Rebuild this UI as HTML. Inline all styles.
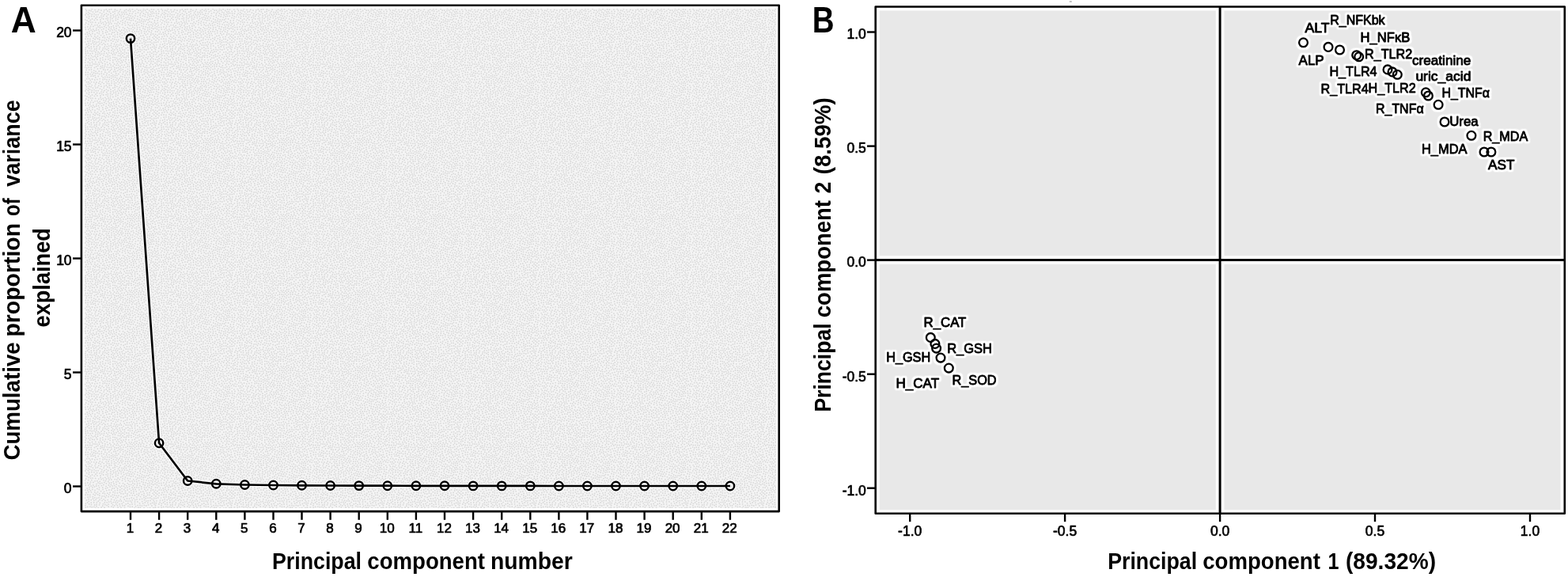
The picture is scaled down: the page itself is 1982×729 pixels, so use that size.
<!DOCTYPE html>
<html lang="en"><head><meta charset="utf-8"><title>PCA scree plot and loading plot</title>
<style>
html,body{margin:0;padding:0;background:#fff;}
body{width:1982px;height:729px;overflow:hidden;}
svg{display:block;position:absolute;left:0;top:0;}
text{font-family:"Liberation Sans","DejaVu Sans",sans-serif;fill:#000;}
.t{font-size:17.5px;stroke:#000;stroke-width:0.7px;stroke-linejoin:round;}
.l{font-size:16.8px;stroke:#000;stroke-width:0.85px;stroke-linejoin:round;}
.b{font-weight:bold;font-size:29px;}
.p{font-weight:bold;font-size:45.5px;}
</style></head><body>
<svg width="1982" height="729" viewBox="0 0 1982 729">
<defs>
<pattern id="stip" x="107" y="11" width="96" height="96" patternUnits="userSpaceOnUse"><rect width="96" height="96" fill="#f4f4f4"/><path d="M22.8 52.2h0M35.5 58.0h0M60.1 6.3h0M1.3 80.4h0M24.9 22.5h0M95.6 45.1h0M80.3 45.7h0M61.4 14.5h0M60.9 83.3h0M50.2 71.2h0M64.5 6.1h0M72.8 56.7h0M28.9 3.0h0M83.1 45.4h0M69.0 84.4h0M68.6 88.4h0M37.9 76.9h0M42.7 89.8h0M84.4 9.4h0M13.1 20.8h0M92.7 41.9h0M60.2 28.9h0M48.7 37.0h0M33.7 56.2h0M56.1 86.8h0M65.5 89.2h0M82.2 95.1h0M64.4 15.7h0M82.6 92.6h0M86.9 54.6h0M68.5 20.3h0M79.8 55.1h0M27.4 6.1h0M8.5 76.9h0M39.4 14.5h0M28.2 73.8h0M83.8 4.2h0M69.0 31.8h0M84.6 94.1h0M48.5 95.9h0M29.7 7.4h0M57.6 3.0h0M18.9 39.2h0M58.6 15.0h0M4.1 83.3h0M30.1 92.0h0M86.1 36.3h0M44.2 49.9h0M61.8 57.2h0M53.7 59.5h0M90.3 48.7h0M41.4 69.1h0M22.8 28.9h0M93.9 50.0h0M52.6 1.1h0M39.9 55.7h0M1.9 59.1h0M60.2 44.8h0M65.2 33.8h0M67.9 70.9h0M2.1 5.8h0M64.9 92.5h0M24.1 43.8h0M56.9 30.7h0M34.9 30.0h0M28.8 36.2h0M74.1 2.6h0M54.6 70.6h0M29.8 21.4h0M77.2 22.9h0M18.0 41.8h0M67.0 9.8h0M30.9 32.0h0M80.0 42.1h0M82.1 16.3h0M32.3 62.4h0M85.0 43.3h0M21.6 11.6h0M50.8 18.3h0M77.5 80.5h0M17.6 26.7h0M77.5 61.6h0M77.4 33.1h0M12.5 28.0h0M76.2 26.0h0M33.3 40.0h0M40.3 39.3h0M88.4 15.0h0M0.4 90.6h0M89.0 21.3h0M71.6 80.3h0M63.6 49.8h0M27.7 32.7h0M21.8 6.5h0M56.5 27.6h0M77.8 4.3h0M86.7 66.6h0M88.7 86.1h0M1.3 71.5h0M39.7 90.1h0M58.8 32.8h0M24.2 82.7h0M45.8 75.1h0M33.8 18.9h0M51.3 78.4h0M16.4 76.0h0M88.5 77.4h0M79.1 0.7h0M4.8 26.1h0M25.8 50.6h0M40.6 45.4h0M74.5 0.2h0M5.3 12.2h0M12.0 6.6h0M93.6 82.0h0M8.3 48.2h0M56.3 34.6h0M18.3 31.6h0M11.9 53.3h0M68.7 36.5h0M7.7 17.1h0M75.1 36.5h0M41.4 35.8h0M47.6 67.5h0M40.4 66.6h0M44.2 23.5h0M51.4 66.7h0M6.9 40.8h0M40.9 84.4h0M89.9 35.9h0M86.2 75.9h0M11.8 78.1h0M63.6 85.2h0M76.1 64.1h0M70.4 54.1h0M9.9 56.4h0M0.5 13.8h0M8.8 9.5h0M84.5 17.2h0M11.6 81.0h0M64.7 80.3h0M91.4 55.6h0M73.7 49.1h0M71.9 89.7h0M5.9 31.1h0M54.1 79.5h0M23.2 17.3h0M24.0 59.1h0M72.3 37.8h0M35.3 38.1h0M71.8 15.4h0M46.4 61.7h0M9.2 71.8h0M88.0 49.7h0M19.1 56.2h0M28.4 67.7h0M39.7 81.9h0M20.9 2.2h0M46.0 36.7h0M16.5 34.6h0M30.9 74.3h0M13.8 95.2h0M46.0 57.5h0M44.9 80.1h0M82.2 38.4h0M70.4 92.2h0M22.5 68.9h0M82.0 23.2h0M18.0 67.7h0M82.4 86.4h0M30.1 40.6h0M70.0 8.2h0M8.9 80.1h0M55.7 64.8h0M0.7 32.1h0M91.7 37.5h0M52.3 11.4h0M26.4 63.9h0M10.8 85.2h0M87.2 9.3h0M74.2 72.7h0M62.8 77.4h0M25.5 72.4h0M92.3 64.6h0M47.4 33.8h0M68.9 65.1h0M54.4 17.5h0M62.0 60.6h0M17.2 85.4h0M62.9 11.8h0M31.8 69.2h0M57.4 53.3h0M30.0 16.9h0M6.6 68.7h0M72.4 52.1h0M71.0 34.5h0M25.5 36.8h0M48.5 23.7h0M73.8 34.0h0M52.0 74.1h0M33.9 81.3h0M10.8 26.0h0M74.8 69.8h0M17.7 18.2h0M40.0 71.4h0M78.3 71.9h0M38.2 18.6h0M50.6 54.6h0M19.4 24.0h0M77.1 85.6h0M53.1 56.0h0M60.8 93.8h0M65.9 28.7h0M57.7 69.8h0M0.2 74.0h0M63.5 47.2h0M50.3 44.2h0M18.6 50.8h0M3.6 48.0h0M62.0 42.6h0M54.3 92.1h0M85.6 13.0h0M4.9 34.6h0M51.7 89.3h0M31.0 83.6h0M66.7 12.9h0M82.4 57.7h0M89.0 68.7h0M77.4 89.4h0M82.7 42.0h0M72.7 46.6h0M10.5 4.1h0M15.4 47.7h0M67.1 51.6h0M40.5 62.3h0M29.2 44.6h0M35.6 50.8h0M57.3 21.5h0M0.3 20.1h0M75.2 13.8h0M44.2 18.7h0M20.1 16.4h0M2.6 10.6h0M5.7 2.2h0M43.0 39.1h0M67.5 4.9h0M2.6 92.7h0M21.0 9.1h0M45.6 15.8h0M69.9 26.4h0M75.6 44.7h0M89.6 28.9h0M24.0 25.5h0M33.1 9.0h0M56.9 0.4h0M16.4 3.5h0M5.2 62.8h0M86.4 19.3h0M90.2 3.3h0M29.3 58.3h0M90.9 8.4h0M28.2 81.6h0M11.0 37.4h0M32.1 65.3h0M71.0 70.5h0M39.8 22.0h0M25.9 16.3h0M69.2 58.1h0M68.2 2.2h0M44.8 72.8h0M86.1 70.4h0M32.0 35.5h0M6.9 38.3h0M54.6 10.6h0M7.8 62.3h0M14.7 61.9h0M22.1 92.9h0M21.1 54.0h0M40.3 75.0h0M58.0 75.7h0M17.1 7.6h0M79.2 10.8h0M8.2 44.7h0M21.4 79.6h0M59.1 61.6h0M73.1 83.7h0M42.8 10.7h0M78.2 19.8h0M33.2 46.5h0M6.9 53.1h0M70.6 40.6h0M20.6 33.7h0M41.4 8.1h0M58.8 89.4h0M51.4 40.2h0M91.0 86.7h0M28.0 89.7h0M49.9 61.4h0M3.9 71.5h0M26.5 41.5h0M33.1 71.2h0M9.9 28.7h0M14.7 73.2h0M67.2 93.7h0M35.8 15.5h0M50.5 52.0h0M12.6 51.0h0M51.4 15.9h0M4.8 19.6h0M94.0 75.4h0M94.0 3.4h0M17.8 1.3h0M41.5 32.5h0M23.7 77.0h0M40.1 25.0h0M4.2 41.2h0M60.2 64.8h0M23.7 13.0h0M72.8 75.8h0M48.8 79.8h0M53.0 26.8h0M87.0 44.9h0M78.1 57.9h0M39.8 49.8h0M33.8 43.7h0M92.1 14.9h0M30.2 50.1h0M46.8 26.9h0M9.8 64.2h0M86.0 92.2h0M61.8 18.7h0M88.4 17.4h0M36.8 79.5h0M30.4 26.0h0M91.2 90.6h0M27.1 12.6h0M7.6 22.1h0M80.5 60.6h0M27.1 92.3h0M52.4 4.5h0M13.8 86.9h0M64.8 62.1h0M18.2 79.0h0M36.7 10.3h0M37.4 94.8h0M13.9 12.2h0M33.8 87.8h0M90.2 95.7h0M94.1 23.6h0M34.0 91.3h0M75.1 54.6h0M19.4 5.1h0M93.9 39.3h0M1.3 83.5h0M73.5 8.9h0M14.0 57.6h0M94.1 89.9h0M82.8 80.2h0M43.5 45.9h0M51.0 84.0h0M42.4 59.3h0M81.4 74.6h0M38.3 35.8h0M56.1 14.0h0M87.7 42.4h0M45.6 85.5h0M27.5 18.2h0M8.1 2.7h0M33.7 0.7h0M79.9 17.6h0M49.1 41.5h0M94.0 66.4h0M72.3 95.2h0M46.1 40.5h0M85.9 79.3h0M28.7 86.4h0M73.8 87.4h0M82.3 70.8h0M41.6 30.0h0M90.0 11.5h0M87.7 38.1h0M80.0 5.5h0M25.3 66.6h0M21.2 42.4h0M54.2 23.6h0M64.4 58.5h0M16.9 72.1h0M37.8 51.8h0M42.5 5.4h0M75.5 82.5h0M25.8 86.3h0M65.8 21.3h0M84.9 52.0h0M71.8 28.0h0M1.0 65.1h0M46.0 54.4h0M54.0 37.0h0M16.6 37.9h0M5.3 46.3h0M19.3 48.5h0M83.4 49.5h0M38.1 6.3h0M26.5 30.2h0M91.0 45.8h0M92.4 17.9h0M54.8 49.0h0M19.2 21.4h0M70.4 86.7h0M9.5 67.5h0M72.0 21.6h0M43.9 93.5h0M15.9 64.0h0M35.7 83.6h0M66.0 41.1h0M20.3 72.8h0M48.5 91.5h0M35.8 4.2h0M52.2 64.2h0M13.1 60.0h0M0.7 7.9h0M58.7 25.3h0M49.8 31.5h0M93.2 9.8h0M77.3 42.7h0M64.1 31.4h0M22.1 39.9h0M55.0 52.4h0M2.4 2.5h0M63.6 70.6h0M76.3 48.0h0M9.6 89.0h0M96.0 16.1h0M11.7 48.0h0M0.5 68.0h0M28.8 29.3h0M8.5 92.6h0M6.6 64.9h0M37.5 44.7h0M29.3 70.9h0M24.6 34.3h0M56.1 58.7h0M62.0 68.7h0M89.1 24.4h0M93.7 27.1h0M8.2 85.2h0M86.5 32.0h0M89.7 72.3h0M24.0 19.6h0M14.9 93.0h0M86.9 87.8h0M86.8 25.5h0M19.2 88.6h0M29.9 63.8h0M38.3 33.1h0M55.2 2.4h0M83.7 33.0h0M32.1 27.9h0M46.3 11.6h0M16.3 81.4h0M36.0 34.7h0M52.3 46.0h0M45.4 68.7h0M17.9 94.2h0M25.0 7.5h0M81.2 84.2h0M72.5 43.3h0M79.7 26.9h0M63.6 2.7h0M59.5 73.6h0M93.1 20.8h0M13.1 70.0h0M57.0 38.8h0M59.3 47.5h0M75.4 28.6h0M19.2 91.9h0M0.1 42.2h0M46.9 4.3h0M32.9 6.2h0M51.5 33.4h0M27.4 23.9h0M5.6 88.4h0M80.8 89.4h0M67.1 59.3h0M29.3 11.8h0M72.9 65.9h0M34.2 48.8h0M84.9 56.3h0M19.8 62.7h0M86.8 63.6h0M36.3 53.8h0M49.6 27.4h0M94.0 85.0h0M18.6 70.2h0M56.5 43.1h0M59.4 12.0h0M1.2 54.3h0M95.2 93.3h0M19.9 75.4h0M4.4 67.5h0M53.9 29.1h0M33.6 84.9h0M48.0 14.7h0M22.7 61.9h0M59.7 78.9h0M16.5 60.2h0M40.9 2.3h0M21.7 85.1h0M10.9 22.5h0M78.5 91.6h0M56.9 5.9h0M78.9 68.6h0M36.9 24.2h0M15.0 52.5h0M30.8 55.6h0M14.9 24.6h0M37.4 92.3h0M65.5 18.7h0M44.5 63.4h0M78.0 13.8h0M35.8 67.7h0M42.1 54.0h0M15.6 10.4h0M36.4 47.6h0M7.1 56.9h0M58.8 36.0h0M10.1 17.1h0M67.2 17.0h0M35.8 65.0h0M91.0 76.1h0M24.2 94.6h0M60.4 0.7h0M81.5 29.0h0M13.1 38.7h0M9.2 7.1h0M78.9 35.8h0M60.0 50.0h0M38.4 1.0h0M42.4 95.8h0M66.0 55.5h0M49.0 64.9h0M32.6 14.3h0M12.4 14.3h0M51.6 20.8h0M95.7 10.4h0M13.1 1.6h0M27.1 27.4h0M76.6 7.4h0M8.5 50.6h0M23.0 36.2h0M63.2 24.5h0M84.7 40.0h0M23.1 31.4h0M8.1 26.9h0M35.8 61.3h0M48.2 17.6h0M86.7 60.1h0M30.8 79.9h0M74.6 19.3h0M89.4 92.4h0M12.5 74.5h0M95.2 78.7h0M68.2 73.3h0M3.2 30.0h0M1.3 26.2h0M6.8 24.5h0M60.3 38.8h0M69.6 43.8h0M56.9 80.9h0M69.5 48.8h0M19.7 58.6h0M33.7 22.8h0M71.5 77.9h0M36.0 72.5h0M72.2 4.1h0M94.2 35.9h0M25.3 48.2h0M67.9 79.4h0M66.1 76.6h0M89.5 32.3h0M50.5 6.9h0M60.9 9.8h0M82.1 35.4h0M66.2 66.6h0M23.3 49.8h0M29.2 14.4h0M3.9 86.1h0M43.6 56.3h0M66.3 26.0h0M30.2 52.9h0M43.3 66.8h0M76.5 93.2h0M71.6 63.8h0M5.0 92.7h0M54.5 76.3h0M71.9 18.6h0M89.5 51.5h0M5.7 77.2h0M42.1 17.0h0M23.1 89.7h0M76.9 66.7h0M63.4 38.9h0M47.4 6.9h0M49.1 47.6h0M47.2 49.5h0M2.7 74.9h0M42.9 82.5h0M69.3 14.2h0M26.0 45.5h0M53.7 39.4h0M92.9 1.1h0M79.3 86.8h0M50.7 25.2h0M41.7 78.3h0M89.5 83.4h0M93.4 53.8h0M7.1 82.6h0M17.1 54.7h0M6.7 94.6h0M39.3 42.3h0M12.8 41.8h0M87.4 1.1h0M17.3 46.2h0M76.4 74.0h0M44.7 32.0h0M74.1 62.0h0M37.4 30.0h0M66.8 46.9h0M34.0 76.4h0M36.0 86.1h0M27.9 9.5h0M3.7 53.4h0M1.0 38.2h0M94.2 31.9h0M90.1 57.9h0M92.7 12.3h0M81.1 66.3h0M46.8 93.5h0M62.3 81.3h0M41.9 13.4h0M1.3 49.4h0M30.9 94.8h0M50.5 2.5h0M76.6 15.8h0M59.6 56.1h0M13.0 32.3h0M26.9 60.4h0M10.3 40.7h0M43.9 3.4h0M31.8 59.6h0M75.0 41.7h0M75.0 59.3h0M63.4 95.7h0M91.0 61.1h0M80.5 50.9h0M13.8 67.3h0M95.7 29.5h0M77.5 40.2h0M29.2 77.0h0M68.2 38.9h0M55.6 61.2h0M56.9 91.8h0M15.5 42.3h0M24.5 56.7h0M47.1 30.4h0M35.2 27.1h0M48.2 82.7h0M51.0 94.7h0M69.5 23.6h0M20.2 95.5h0M15.9 89.4h0M90.5 5.8h0M54.2 83.6h0M39.3 9.4h0M81.7 2.5h0M95.1 58.0h0M81.1 20.6h0M69.7 95.8h0M18.6 29.1h0M43.2 26.9h0M0.7 23.5h0M15.9 30.4h0M71.8 30.6h0M61.8 36.2h0M18.6 82.6h0M92.1 29.1h0M93.4 60.2h0M79.0 77.4h0M7.2 90.3h0M65.7 86.3h0M28.2 47.8h0M39.6 93.8h0M55.1 89.4h0M27.8 56.2h0M66.0 43.8h0M45.0 28.5h0M9.3 0.3h0M56.8 83.4h0M19.0 10.9h0M5.2 74.2h0M4.2 56.1h0M48.0 86.1h0M82.9 7.2h0M32.4 78.1h0M38.6 86.7h0M83.4 60.0h0M27.3 0.9h0M33.9 32.2h0M45.2 43.8h0M2.5 45.0h0M38.4 58.2h0M75.4 51.4h0M11.8 45.3h0M60.8 23.4h0M15.9 13.9h0M85.8 21.9h0M83.9 76.9h0M32.6 11.5h0M89.3 80.3h0M53.2 87.1h0M91.4 25.7h0M73.9 24.9h0M44.3 88.0h0M46.3 46.0h0M48.3 76.9h0M12.7 34.8h0M83.3 64.0h0M88.3 89.7h0M5.2 59.6h0M22.1 45.3h0M69.7 60.5h0M28.1 51.5h0M3.0 14.9h0M0.1 61.1h0M89.6 64.1h0M24.8 1.8h0M86.9 84.0h0M8.5 35.1h0M22.1 74.5h0M50.4 57.6h0M26.1 77.4h0M69.3 68.5h0M82.6 54.7h0M89.9 39.9h0M12.8 89.9h0M92.7 92.5h0M70.5 10.9h0M39.7 28.1h0M53.5 7.2h0M84.7 27.9h0M23.6 9.5h0M60.3 53.2h0M31.4 3.9h0M47.5 20.1h0M21.1 18.6h0M45.8 91.2h0M58.2 9.2h0M4.0 38.0h0M53.5 43.0h0M4.4 7.4h0M44.7 52.3h0M61.9 72.6h0M52.5 81.4h0M74.5 91.0h0M76.1 77.2h0M19.6 65.1h0M95.1 47.7h0M3.8 22.9h0M1.2 0.3h0M83.9 89.6h0M67.9 91.2h0M91.4 70.0h0M33.9 52.8h0M13.7 17.4h0M20.0 14.0h0M65.9 83.8h0M12.3 64.5h0M95.6 87.2h0M8.5 59.3h0M21.7 57.1h0M30.8 37.8h0M34.1 94.0h0M68.6 75.9h0M59.7 85.5h0M79.7 31.8h0M63.6 74.6h0M11.9 9.7h0M68.0 81.9h0M10.6 60.8h0M8.1 74.4h0M2.0 35.5h0M11.8 92.8h0M87.4 73.6h0M53.4 13.6h0M35.9 41.2h0M49.1 9.7h0M92.6 78.6h0M57.2 73.0h0M38.2 61.6h0M59.2 67.8h0M43.7 76.7h0M13.1 84.4h0M14.0 79.2h0M80.2 79.7h0M7.4 14.4h0M61.9 33.7h0M74.5 6.0h0M70.7 2.1h0M2.0 62.8h0M14.4 7.7h0M83.6 73.4h0M91.6 67.2h0M76.2 9.9h0M21.9 23.3h0M6.5 6.2h0M37.5 70.0h0M48.1 51.8h0M67.3 62.1h0M84.5 85.1h0M14.7 27.0h0M72.6 12.9h0M61.3 88.6h0M23.0 64.7h0M54.6 94.7h0M21.4 26.6h0M40.7 19.2h0M55.7 56.2h0M63.3 64.2h0M4.3 80.4h0M54.4 73.0h0M82.4 12.6h0M55.2 20.2h0M82.2 25.8h0M57.2 50.6h0M31.3 86.7h0M78.7 74.6h0M83.8 20.3h0M51.4 35.9h0M77.8 52.0h0M35.0 12.3h0M25.8 80.2h0M52.7 68.9h0M52.3 49.9h0M85.7 48.4h0M84.6 82.6h0M87.1 94.4h0M24.2 4.1h0M9.9 31.4h0M75.8 31.2h0M15.9 20.7h0M56.4 67.8h0M58.2 94.1h0M62.1 91.2h0M84.6 0.9h0M79.9 94.1h0M61.3 3.8h0M51.8 92.1h0M18.8 36.6h0M25.1 54.2h0M9.6 12.9h0M72.2 59.8h0M63.9 8.8h0M70.5 5.9h0M41.8 92.1h0M94.8 70.7h0M65.9 37.4h0M84.1 66.4h0M2.7 88.6h0M78.0 29.1h0M70.9 73.0h0M63.2 28.9h0M47.0 71.3h0M79.7 82.1h0M90.3 42.6h0M41.8 41.3h0M8.8 19.6h0M46.0 9.1h0M54.8 46.1h0M79.6 63.0h0M45.2 1.1h0M57.5 45.9h0M66.1 0.3h0M93.4 6.2h0M36.3 21.7h0M87.6 5.7h0M21.3 82.1h0M64.5 52.7h0M79.8 48.3h0M82.0 9.8h0M92.8 72.0h0M42.3 21.3h0M84.7 24.4h0M63.1 20.8h0M40.9 87.8h0M63.2 55.0h0M15.5 70.1h0M14.0 4.1h0M38.6 64.3h0M57.5 17.8h0M47.1 88.9h0M5.7 49.9h0M4.7 4.6h0M80.2 8.0h0M69.7 16.9h0M91.9 33.7h0M27.6 83.9h0M13.9 55.0h0M74.9 39.2h0M68.0 54.2h0M2.2 77.4h0M68.4 29.1h0M27.6 39.1h0M6.0 28.6h0M87.3 57.6h0M74.2 16.5h0M48.9 73.9h0M77.9 46.1h0M1.8 17.9h0M44.2 7.5h0M36.5 89.5h0M89.3 54.2h0M25.5 89.0h0M38.2 3.5h0M33.5 73.9h0M79.7 38.3h0M32.5 16.8h0M52.3 61.5h0M56.7 78.3h0M75.0 79.5h0M41.4 51.6h0M59.2 41.9h0M41.5 47.8h0M42.0 64.4h0M61.4 26.6h0M26.6 20.5h0M44.4 34.9h0M60.0 20.9h0M94.2 63.0h0M74.3 22.4h0M14.1 44.3h0M0.9 51.8h0M79.7 24.2h0M1.3 56.7h0M76.6 2.1h0M54.1 32.0h0M31.1 89.6h0M5.7 9.7h0M48.1 59.7h0M30.7 47.1h0M5.1 43.6h0M15.0 50.1h0M4.4 95.3h0M16.6 57.5h0M80.5 14.0h0M5.3 16.4h0M88.1 34.4h0M84.9 62.0h0M7.5 32.9h0M50.6 86.6h0M46.2 65.4h0M25.9 69.9h0M70.0 51.4h0M37.7 38.7h0M24.5 74.6h0M9.3 53.7h0M59.3 81.6h0M14.0 81.8h0M6.8 71.4h0M66.6 23.6h0M28.4 94.4h0M42.6 71.3h0M60.7 75.8h0M65.6 69.2h0M65.5 72.8h0M14.5 36.5h0M10.7 69.8h0M58.8 59.2h0M33.4 25.5h0M49.7 12.6h0M49.4 4.7h0M19.1 44.4h0M22.6 72.1h0M63.7 44.6h0M38.9 47.5h0M36.0 7.9h0M84.1 30.5h0M85.2 6.3h0M20.8 67.3h0M39.5 11.8h0M88.0 47.2h0M55.9 8.3h0M48.3 56.2h0M24.6 39.9h0M91.4 22.8h0M37.7 26.6h0M39.2 79.5h0M60.1 70.7h0M9.9 82.9h0M86.1 3.7h0M46.0 77.6h0M83.7 68.8h0M10.5 43.2h0M31.3 1.2h0M31.0 19.2h0M23.3 87.1h0M42.6 74.4h0M17.1 22.9h0M3.7 32.4h0M72.8 68.4h0M90.2 19.2h0M44.8 59.6h0M51.3 29.3h0M61.2 31.2h0M63.7 66.8h0M37.1 56.1h0M38.4 84.3h0M29.4 60.8h0M31.2 23.4h0M37.8 74.4h0M56.9 11.8h0M56.0 25.2h0" fill="none" stroke="#d8d8d8" stroke-width="1.8" stroke-linecap="round"/></pattern>
<filter id="halo" filterUnits="userSpaceOnUse" x="1100" y="0" width="882" height="660" color-interpolation-filters="sRGB"><feMorphology in="SourceAlpha" operator="dilate" radius="2.2" result="d"/><feGaussianBlur in="d" stdDeviation="1.2" result="b0"/><feComponentTransfer in="b0" result="b"><feFuncA type="linear" slope="2.2" intercept="-0.1"/></feComponentTransfer><feFlood flood-color="#fff" result="w"/><feComposite in="w" in2="b" operator="in" result="h"/><feMerge><feMergeNode in="h"/><feMergeNode in="SourceGraphic"/></feMerge></filter>
</defs>
<rect x="107" y="11" width="874" height="631" fill="url(#stip)"/>
<rect x="102.9" y="6.8" width="881.8" height="639.3" fill="none" stroke="#000" stroke-width="2.6" stroke-linejoin="round"/>
<line x1="92" y1="614.5" x2="102.9" y2="614.5" stroke="#000" stroke-width="2.4"/>
<text class="t" x="90.6" y="623.2" text-anchor="end">0</text>
<line x1="92" y1="470.5" x2="102.9" y2="470.5" stroke="#000" stroke-width="2.4"/>
<text class="t" x="90.6" y="479.2" text-anchor="end">5</text>
<line x1="92" y1="326.5" x2="102.9" y2="326.5" stroke="#000" stroke-width="2.4"/>
<text class="t" x="90.6" y="335.2" text-anchor="end">10</text>
<line x1="92" y1="182.5" x2="102.9" y2="182.5" stroke="#000" stroke-width="2.4"/>
<text class="t" x="90.6" y="191.2" text-anchor="end">15</text>
<line x1="92" y1="38.5" x2="102.9" y2="38.5" stroke="#000" stroke-width="2.4"/>
<text class="t" x="90.6" y="47.2" text-anchor="end">20</text>
<line x1="165.0" y1="646.1" x2="165.0" y2="656.8" stroke="#000" stroke-width="2.4"/>
<text class="t" style="font-size:17px" x="164.4" y="673.3" text-anchor="middle">1</text>
<line x1="201.1" y1="646.1" x2="201.1" y2="656.8" stroke="#000" stroke-width="2.4"/>
<text class="t" style="font-size:17px" x="200.5" y="673.3" text-anchor="middle">2</text>
<line x1="237.2" y1="646.1" x2="237.2" y2="656.8" stroke="#000" stroke-width="2.4"/>
<text class="t" style="font-size:17px" x="236.6" y="673.3" text-anchor="middle">3</text>
<line x1="273.3" y1="646.1" x2="273.3" y2="656.8" stroke="#000" stroke-width="2.4"/>
<text class="t" style="font-size:17px" x="272.7" y="673.3" text-anchor="middle">4</text>
<line x1="309.4" y1="646.1" x2="309.4" y2="656.8" stroke="#000" stroke-width="2.4"/>
<text class="t" style="font-size:17px" x="308.8" y="673.3" text-anchor="middle">5</text>
<line x1="345.5" y1="646.1" x2="345.5" y2="656.8" stroke="#000" stroke-width="2.4"/>
<text class="t" style="font-size:17px" x="344.9" y="673.3" text-anchor="middle">6</text>
<line x1="381.5" y1="646.1" x2="381.5" y2="656.8" stroke="#000" stroke-width="2.4"/>
<text class="t" style="font-size:17px" x="380.9" y="673.3" text-anchor="middle">7</text>
<line x1="417.6" y1="646.1" x2="417.6" y2="656.8" stroke="#000" stroke-width="2.4"/>
<text class="t" style="font-size:17px" x="417.0" y="673.3" text-anchor="middle">8</text>
<line x1="453.7" y1="646.1" x2="453.7" y2="656.8" stroke="#000" stroke-width="2.4"/>
<text class="t" style="font-size:17px" x="453.1" y="673.3" text-anchor="middle">9</text>
<line x1="489.8" y1="646.1" x2="489.8" y2="656.8" stroke="#000" stroke-width="2.4"/>
<text class="t" style="font-size:17px" x="489.2" y="673.3" text-anchor="middle">10</text>
<line x1="525.9" y1="646.1" x2="525.9" y2="656.8" stroke="#000" stroke-width="2.4"/>
<text class="t" style="font-size:17px" x="525.3" y="673.3" text-anchor="middle">11</text>
<line x1="562.0" y1="646.1" x2="562.0" y2="656.8" stroke="#000" stroke-width="2.4"/>
<text class="t" style="font-size:17px" x="561.4" y="673.3" text-anchor="middle">12</text>
<line x1="598.1" y1="646.1" x2="598.1" y2="656.8" stroke="#000" stroke-width="2.4"/>
<text class="t" style="font-size:17px" x="597.5" y="673.3" text-anchor="middle">13</text>
<line x1="634.2" y1="646.1" x2="634.2" y2="656.8" stroke="#000" stroke-width="2.4"/>
<text class="t" style="font-size:17px" x="633.6" y="673.3" text-anchor="middle">14</text>
<line x1="670.3" y1="646.1" x2="670.3" y2="656.8" stroke="#000" stroke-width="2.4"/>
<text class="t" style="font-size:17px" x="669.7" y="673.3" text-anchor="middle">15</text>
<line x1="706.4" y1="646.1" x2="706.4" y2="656.8" stroke="#000" stroke-width="2.4"/>
<text class="t" style="font-size:17px" x="705.8" y="673.3" text-anchor="middle">16</text>
<line x1="742.4" y1="646.1" x2="742.4" y2="656.8" stroke="#000" stroke-width="2.4"/>
<text class="t" style="font-size:17px" x="741.8" y="673.3" text-anchor="middle">17</text>
<line x1="778.5" y1="646.1" x2="778.5" y2="656.8" stroke="#000" stroke-width="2.4"/>
<text class="t" style="font-size:17px" x="777.9" y="673.3" text-anchor="middle">18</text>
<line x1="814.6" y1="646.1" x2="814.6" y2="656.8" stroke="#000" stroke-width="2.4"/>
<text class="t" style="font-size:17px" x="814.0" y="673.3" text-anchor="middle">19</text>
<line x1="850.7" y1="646.1" x2="850.7" y2="656.8" stroke="#000" stroke-width="2.4"/>
<text class="t" style="font-size:17px" x="850.1" y="673.3" text-anchor="middle">20</text>
<line x1="886.8" y1="646.1" x2="886.8" y2="656.8" stroke="#000" stroke-width="2.4"/>
<text class="t" style="font-size:17px" x="886.2" y="673.3" text-anchor="middle">21</text>
<line x1="922.9" y1="646.1" x2="922.9" y2="656.8" stroke="#000" stroke-width="2.4"/>
<text class="t" style="font-size:17px" x="922.3" y="673.3" text-anchor="middle">22</text>
<polyline points="165.0,48.6 201.1,559.8 237.2,607.5 273.3,611.3 309.4,612.5 345.5,613.0 381.5,613.3 417.6,613.5 453.7,613.6 489.8,613.7 525.9,613.8 562.0,613.8 598.1,613.9 634.2,613.9 670.3,613.9 706.4,614.0 742.4,614.0 778.5,614.0 814.6,614.0 850.7,614.0 886.8,614.0 922.9,614.0" fill="none" stroke="#fff" stroke-opacity="0.75" stroke-width="5.5" stroke-linejoin="round"/>
<circle cx="165.0" cy="48.6" r="5.1" fill="none" stroke="#fff" stroke-opacity="0.75" stroke-width="5.2"/>
<circle cx="201.1" cy="559.8" r="5.1" fill="none" stroke="#fff" stroke-opacity="0.75" stroke-width="5.2"/>
<circle cx="237.2" cy="607.5" r="5.1" fill="none" stroke="#fff" stroke-opacity="0.75" stroke-width="5.2"/>
<circle cx="273.3" cy="611.3" r="5.1" fill="none" stroke="#fff" stroke-opacity="0.75" stroke-width="5.2"/>
<circle cx="309.4" cy="612.5" r="5.1" fill="none" stroke="#fff" stroke-opacity="0.75" stroke-width="5.2"/>
<circle cx="345.5" cy="613.0" r="5.1" fill="none" stroke="#fff" stroke-opacity="0.75" stroke-width="5.2"/>
<circle cx="381.5" cy="613.3" r="5.1" fill="none" stroke="#fff" stroke-opacity="0.75" stroke-width="5.2"/>
<circle cx="417.6" cy="613.5" r="5.1" fill="none" stroke="#fff" stroke-opacity="0.75" stroke-width="5.2"/>
<circle cx="453.7" cy="613.6" r="5.1" fill="none" stroke="#fff" stroke-opacity="0.75" stroke-width="5.2"/>
<circle cx="489.8" cy="613.7" r="5.1" fill="none" stroke="#fff" stroke-opacity="0.75" stroke-width="5.2"/>
<circle cx="525.9" cy="613.8" r="5.1" fill="none" stroke="#fff" stroke-opacity="0.75" stroke-width="5.2"/>
<circle cx="562.0" cy="613.8" r="5.1" fill="none" stroke="#fff" stroke-opacity="0.75" stroke-width="5.2"/>
<circle cx="598.1" cy="613.9" r="5.1" fill="none" stroke="#fff" stroke-opacity="0.75" stroke-width="5.2"/>
<circle cx="634.2" cy="613.9" r="5.1" fill="none" stroke="#fff" stroke-opacity="0.75" stroke-width="5.2"/>
<circle cx="670.3" cy="613.9" r="5.1" fill="none" stroke="#fff" stroke-opacity="0.75" stroke-width="5.2"/>
<circle cx="706.4" cy="614.0" r="5.1" fill="none" stroke="#fff" stroke-opacity="0.75" stroke-width="5.2"/>
<circle cx="742.4" cy="614.0" r="5.1" fill="none" stroke="#fff" stroke-opacity="0.75" stroke-width="5.2"/>
<circle cx="778.5" cy="614.0" r="5.1" fill="none" stroke="#fff" stroke-opacity="0.75" stroke-width="5.2"/>
<circle cx="814.6" cy="614.0" r="5.1" fill="none" stroke="#fff" stroke-opacity="0.75" stroke-width="5.2"/>
<circle cx="850.7" cy="614.0" r="5.1" fill="none" stroke="#fff" stroke-opacity="0.75" stroke-width="5.2"/>
<circle cx="886.8" cy="614.0" r="5.1" fill="none" stroke="#fff" stroke-opacity="0.75" stroke-width="5.2"/>
<circle cx="922.9" cy="614.0" r="5.1" fill="none" stroke="#fff" stroke-opacity="0.75" stroke-width="5.2"/>
<polyline points="165.0,48.6 201.1,559.8 237.2,607.5 273.3,611.3 309.4,612.5 345.5,613.0 381.5,613.3 417.6,613.5 453.7,613.6 489.8,613.7 525.9,613.8 562.0,613.8 598.1,613.9 634.2,613.9 670.3,613.9 706.4,614.0 742.4,614.0 778.5,614.0 814.6,614.0 850.7,614.0 886.8,614.0 922.9,614.0" fill="none" stroke="#000" stroke-width="2.7" stroke-linejoin="round"/>
<circle cx="165.0" cy="48.6" r="5.2" fill="none" stroke="#000" stroke-width="2.5"/>
<circle cx="201.1" cy="559.8" r="5.2" fill="none" stroke="#000" stroke-width="2.5"/>
<circle cx="237.2" cy="607.5" r="5.2" fill="none" stroke="#000" stroke-width="2.5"/>
<circle cx="273.3" cy="611.3" r="5.2" fill="none" stroke="#000" stroke-width="2.5"/>
<circle cx="309.4" cy="612.5" r="5.2" fill="none" stroke="#000" stroke-width="2.5"/>
<circle cx="345.5" cy="613.0" r="5.2" fill="none" stroke="#000" stroke-width="2.5"/>
<circle cx="381.5" cy="613.3" r="5.2" fill="none" stroke="#000" stroke-width="2.5"/>
<circle cx="417.6" cy="613.5" r="5.2" fill="none" stroke="#000" stroke-width="2.5"/>
<circle cx="453.7" cy="613.6" r="5.2" fill="none" stroke="#000" stroke-width="2.5"/>
<circle cx="489.8" cy="613.7" r="5.2" fill="none" stroke="#000" stroke-width="2.5"/>
<circle cx="525.9" cy="613.8" r="5.2" fill="none" stroke="#000" stroke-width="2.5"/>
<circle cx="562.0" cy="613.8" r="5.2" fill="none" stroke="#000" stroke-width="2.5"/>
<circle cx="598.1" cy="613.9" r="5.2" fill="none" stroke="#000" stroke-width="2.5"/>
<circle cx="634.2" cy="613.9" r="5.2" fill="none" stroke="#000" stroke-width="2.5"/>
<circle cx="670.3" cy="613.9" r="5.2" fill="none" stroke="#000" stroke-width="2.5"/>
<circle cx="706.4" cy="614.0" r="5.2" fill="none" stroke="#000" stroke-width="2.5"/>
<circle cx="742.4" cy="614.0" r="5.2" fill="none" stroke="#000" stroke-width="2.5"/>
<circle cx="778.5" cy="614.0" r="5.2" fill="none" stroke="#000" stroke-width="2.5"/>
<circle cx="814.6" cy="614.0" r="5.2" fill="none" stroke="#000" stroke-width="2.5"/>
<circle cx="850.7" cy="614.0" r="5.2" fill="none" stroke="#000" stroke-width="2.5"/>
<circle cx="886.8" cy="614.0" r="5.2" fill="none" stroke="#000" stroke-width="2.5"/>
<circle cx="922.9" cy="614.0" r="5.2" fill="none" stroke="#000" stroke-width="2.5"/>
<text class="p" x="13.8" y="40.8" textLength="32" lengthAdjust="spacingAndGlyphs">A</text>
<text class="b" y="718.6"><tspan x="344.0" textLength="113.0" lengthAdjust="spacingAndGlyphs">Principal</tspan> <tspan x="464.3" textLength="148.7" lengthAdjust="spacingAndGlyphs">component</tspan> <tspan x="620.0" textLength="103.8" lengthAdjust="spacingAndGlyphs">number</tspan></text>
<text class="b" transform="translate(25.2,0) rotate(-90)" y="0"><tspan x="-581.6" textLength="149.3" lengthAdjust="spacingAndGlyphs">Cumulative</tspan> <tspan x="-425.6" textLength="143.6" lengthAdjust="spacingAndGlyphs">proportion</tspan> <tspan x="-272.9" textLength="22.6" lengthAdjust="spacingAndGlyphs">of</tspan> <tspan x="-235.8" textLength="109.5" lengthAdjust="spacingAndGlyphs">variance</tspan></text>
<text class="b" transform="translate(62.5,0) rotate(-90)" y="0"><tspan x="-413.6" textLength="125.6" lengthAdjust="spacingAndGlyphs">explained</tspan></text>
<rect x="1111.6" y="13.4" width="861.0" height="630.9" fill="#e8e8e8"/>
<line x1="1542.1" y1="8.55" x2="1542.1" y2="648.8" stroke="#fff" stroke-width="10.5"/>
<line x1="1106.7" y1="328.6" x2="1977.8" y2="328.6" stroke="#fff" stroke-width="10.5"/>
<line x1="1542.1" y1="8.55" x2="1542.1" y2="648.8" stroke="#000" stroke-width="3"/>
<line x1="1106.7" y1="328.6" x2="1977.8" y2="328.6" stroke="#000" stroke-width="3"/>
<rect x="1106.7" y="8.55" width="871.1" height="640.2" fill="none" stroke="#000" stroke-width="2.6" stroke-linejoin="round"/>
<line x1="1096" y1="616.7" x2="1106.7" y2="616.7" stroke="#000" stroke-width="2.4"/>
<text class="t" x="1094.8" y="625.5" text-anchor="end">-1.0</text>
<line x1="1150.2" y1="648.8" x2="1150.2" y2="659.2" stroke="#000" stroke-width="2.4"/>
<text class="t" x="1150.2" y="676.6" text-anchor="middle">-1.0</text>
<line x1="1096" y1="472.7" x2="1106.7" y2="472.7" stroke="#000" stroke-width="2.4"/>
<text class="t" x="1094.8" y="481.5" text-anchor="end">-0.5</text>
<line x1="1346.1" y1="648.8" x2="1346.1" y2="659.2" stroke="#000" stroke-width="2.4"/>
<text class="t" x="1346.1" y="676.6" text-anchor="middle">-0.5</text>
<line x1="1096" y1="328.6" x2="1106.7" y2="328.6" stroke="#000" stroke-width="2.4"/>
<text class="t" x="1094.8" y="337.4" text-anchor="end">0.0</text>
<line x1="1542.1" y1="648.8" x2="1542.1" y2="659.2" stroke="#000" stroke-width="2.4"/>
<text class="t" x="1542.1" y="676.6" text-anchor="middle">0.0</text>
<line x1="1096" y1="184.6" x2="1106.7" y2="184.6" stroke="#000" stroke-width="2.4"/>
<text class="t" x="1094.8" y="193.4" text-anchor="end">0.5</text>
<line x1="1738.0" y1="648.8" x2="1738.0" y2="659.2" stroke="#000" stroke-width="2.4"/>
<text class="t" x="1738.0" y="676.6" text-anchor="middle">0.5</text>
<line x1="1096" y1="40.5" x2="1106.7" y2="40.5" stroke="#000" stroke-width="2.4"/>
<text class="t" x="1094.8" y="49.3" text-anchor="end">1.0</text>
<line x1="1934.0" y1="648.8" x2="1934.0" y2="659.2" stroke="#000" stroke-width="2.4"/>
<text class="t" x="1934.0" y="676.6" text-anchor="middle">1.0</text>
<g filter="url(#halo)">
<circle cx="1647.5" cy="53.8" r="5.4" fill="none" stroke="#000" stroke-width="2.3"/>
<circle cx="1679" cy="59.4" r="5.4" fill="none" stroke="#000" stroke-width="2.3"/>
<circle cx="1693.5" cy="63" r="5.4" fill="none" stroke="#000" stroke-width="2.3"/>
<circle cx="1714.7" cy="69.7" r="5.4" fill="none" stroke="#000" stroke-width="2.3"/>
<circle cx="1717.7" cy="71.8" r="5.4" fill="none" stroke="#000" stroke-width="2.3"/>
<circle cx="1754.0" cy="87.9" r="5.4" fill="none" stroke="#000" stroke-width="2.3"/>
<circle cx="1760.0" cy="90.9" r="5.4" fill="none" stroke="#000" stroke-width="2.3"/>
<circle cx="1766.3" cy="94.3" r="5.4" fill="none" stroke="#000" stroke-width="2.3"/>
<circle cx="1802.3" cy="116.8" r="5.4" fill="none" stroke="#000" stroke-width="2.3"/>
<circle cx="1805.4" cy="121" r="5.4" fill="none" stroke="#000" stroke-width="2.3"/>
<circle cx="1818.1" cy="132.3" r="5.4" fill="none" stroke="#000" stroke-width="2.3"/>
<circle cx="1826.0" cy="154" r="5.4" fill="none" stroke="#000" stroke-width="2.3"/>
<circle cx="1859.9" cy="171.3" r="5.4" fill="none" stroke="#000" stroke-width="2.3"/>
<circle cx="1876" cy="192" r="5.4" fill="none" stroke="#000" stroke-width="2.3"/>
<circle cx="1884.9" cy="192" r="5.4" fill="none" stroke="#000" stroke-width="2.3"/>
<circle cx="1176.3" cy="426.4" r="5.4" fill="none" stroke="#000" stroke-width="2.3"/>
<circle cx="1181.9" cy="434.4" r="5.4" fill="none" stroke="#000" stroke-width="2.3"/>
<circle cx="1183.6" cy="440.1" r="5.4" fill="none" stroke="#000" stroke-width="2.3"/>
<circle cx="1189" cy="452.1" r="5.4" fill="none" stroke="#000" stroke-width="2.3"/>
<circle cx="1199.3" cy="465.1" r="5.4" fill="none" stroke="#000" stroke-width="2.3"/>
<text class="l" x="1649.4" y="41.1" textLength="31.2" lengthAdjust="spacingAndGlyphs">ALT</text>
<text class="l" x="1681.2" y="31.2" textLength="69.4" lengthAdjust="spacingAndGlyphs">R_NFKbk</text>
<text class="l" x="1719.6" y="53.1" textLength="62.7" lengthAdjust="spacingAndGlyphs">H_NFκB</text>
<text class="l" x="1725.0" y="73.6" textLength="60.2" lengthAdjust="spacingAndGlyphs">R_TLR2</text>
<text class="l" x="1785.0" y="82" textLength="74.3" lengthAdjust="spacingAndGlyphs">creatinine</text>
<text class="l" x="1641.6" y="82" textLength="32.0" lengthAdjust="spacingAndGlyphs">ALP</text>
<text class="l" x="1680.4" y="96.2" textLength="60.2" lengthAdjust="spacingAndGlyphs">H_TLR4</text>
<text class="l" x="1789.4" y="101.9" textLength="70.0" lengthAdjust="spacingAndGlyphs">uric_acid</text>
<text class="l" x="1669.5" y="118.2" textLength="60.2" lengthAdjust="spacingAndGlyphs">R_TLR4</text>
<text class="l" x="1729.5" y="116.8" textLength="60.2" lengthAdjust="spacingAndGlyphs">H_TLR2</text>
<text class="l" x="1822.5" y="123.1" textLength="60.5" lengthAdjust="spacingAndGlyphs">H_TNFα</text>
<text class="l" x="1739.0" y="143.3" textLength="60.6" lengthAdjust="spacingAndGlyphs">R_TNFα</text>
<text class="l" x="1832.2" y="158.8" textLength="36.4" lengthAdjust="spacingAndGlyphs">Urea</text>
<text class="l" x="1874.7" y="178.1" textLength="56.5" lengthAdjust="spacingAndGlyphs">R_MDA</text>
<text class="l" x="1797.0" y="193.7" textLength="57.5" lengthAdjust="spacingAndGlyphs">H_MDA</text>
<text class="l" x="1881.1" y="214.4" textLength="33.4" lengthAdjust="spacingAndGlyphs">AST</text>
<text class="l" x="1167.5" y="412.8" textLength="53.9" lengthAdjust="spacingAndGlyphs">R_CAT</text>
<text class="l" x="1197.2" y="445.8" textLength="56.7" lengthAdjust="spacingAndGlyphs">R_GSH</text>
<text class="l" x="1120.2" y="456.8" textLength="56.0" lengthAdjust="spacingAndGlyphs">H_GSH</text>
<text class="l" x="1203.5" y="486.3" textLength="56.1" lengthAdjust="spacingAndGlyphs">R_SOD</text>
<text class="l" x="1132.4" y="490.2" textLength="54.8" lengthAdjust="spacingAndGlyphs">H_CAT</text>
</g>
<text class="p" x="1026.8" y="40.8" textLength="27.8" lengthAdjust="spacingAndGlyphs">B</text>
<text class="b" y="719"><tspan x="1400.2" textLength="113.0" lengthAdjust="spacingAndGlyphs">Principal</tspan> <tspan x="1520.2" textLength="148.7" lengthAdjust="spacingAndGlyphs">component</tspan> <tspan x="1678.5" textLength="14.0" lengthAdjust="spacingAndGlyphs">1</tspan> <tspan x="1701.0" textLength="114.0" lengthAdjust="spacingAndGlyphs">(89.32%)</tspan></text>
<text class="b" transform="translate(1050.2,0) rotate(-90)" y="0"><tspan x="-520.6" textLength="112.2" lengthAdjust="spacingAndGlyphs">Principal</tspan> <tspan x="-401.2" textLength="148.2" lengthAdjust="spacingAndGlyphs">component</tspan> <tspan x="-244.4" textLength="14.8" lengthAdjust="spacingAndGlyphs">2</tspan> <tspan x="-220.3" textLength="97.0" lengthAdjust="spacingAndGlyphs">(8.59%)</tspan></text>
<rect x="1351.7" y="1.2" width="3.2" height="1.6" rx="0.6" fill="#b0b0b0"/>
</svg></body></html>
